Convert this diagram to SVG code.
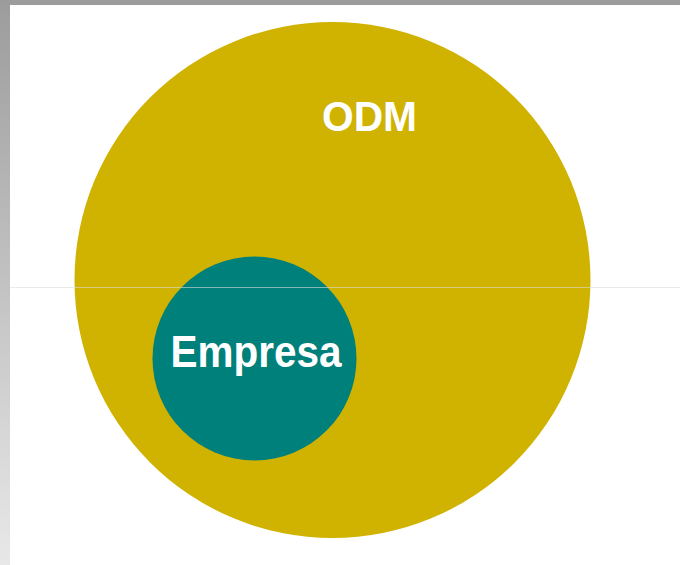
<svg xmlns="http://www.w3.org/2000/svg" width="680" height="565" viewBox="0 0 680 565">
  <defs>
    <linearGradient id="leftbar" x1="0" y1="0" x2="0" y2="1">
      <stop offset="0" stop-color="#9c9c9c"/>
      <stop offset="1" stop-color="#e8e8e8"/>
    </linearGradient>
    <style>
      .lbl { font-family: "Liberation Sans", Arial, sans-serif; font-weight: bold; fill: #ffffff; text-anchor: middle; }
    </style>
  </defs>
  <rect x="0" y="0" width="680" height="565" fill="#ffffff"/>
  <rect x="0" y="0" width="10" height="565" fill="url(#leftbar)"/>
  <rect x="0" y="0" width="680" height="5" fill="#9c9c9c"/>
  <g id="odm">
    <circle cx="332.5" cy="280" r="258" fill="#d0b200"/>
    <text class="lbl" x="369.5" y="131" font-size="42" textLength="95" lengthAdjust="spacingAndGlyphs">ODM</text>
  </g>
  <g id="empresa">
    <circle cx="254.5" cy="358.5" r="102" fill="#00807a"/>
    <text class="lbl" x="256" y="367" font-size="45" textLength="171" lengthAdjust="spacingAndGlyphs">Empresa</text>
  </g>
  <g id="connectors"/>
  <line x1="10" y1="287.5" x2="680" y2="287.5" stroke="#dcdcdc" stroke-opacity="0.6" stroke-width="1"/>
</svg>
